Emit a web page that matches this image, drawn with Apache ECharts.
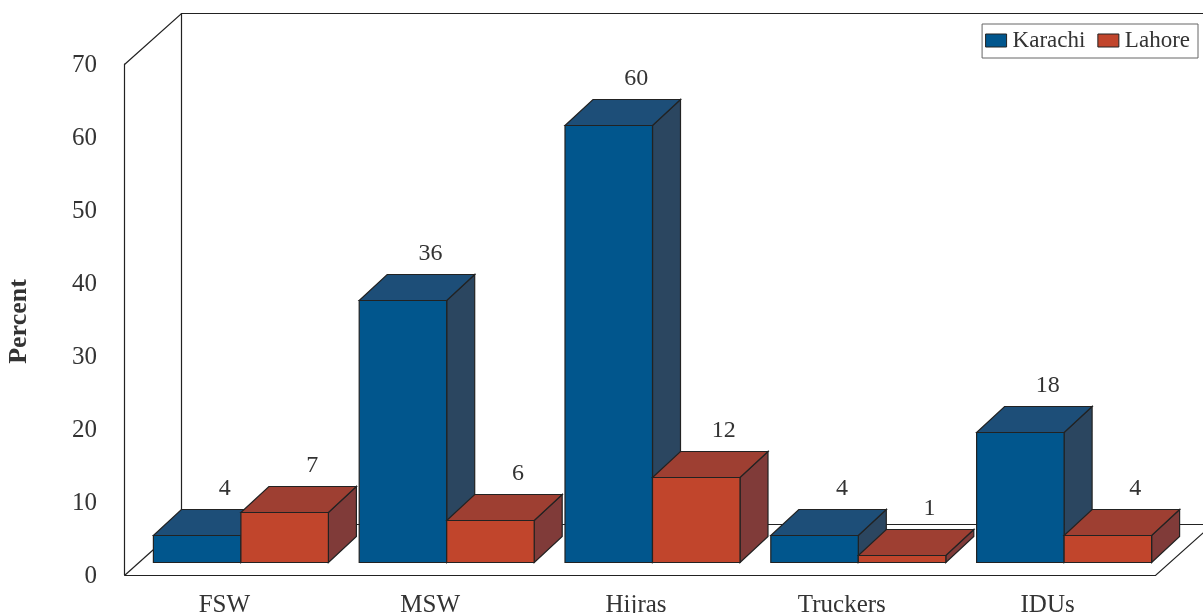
<!DOCTYPE html>
<html>
<head>
<meta charset="utf-8">
<style>html,body{margin:0;padding:0;background:#fff}#c{width:1203px;height:613px}</style>
<script src="https://cdn.jsdelivr.net/npm/echarts@6/dist/echarts.min.js"></script>
</head>
<body>
<div id="c"></div>
<script>
const categories = ['FSW', 'MSW', 'Hijras', 'Truckers', 'IDUs'];
const karachi = [3.7, 35.9, 59.8, 3.7, 17.8];
const lahore = [6.85, 5.75, 11.6, 1.0, 3.7];
const yTicks = [0, 70, 10];

const FONT = '"Liberation Serif","Times New Roman",serif';
const INK = '#222';
const TXT = '#333';
const BAR_W = 87.5, BAR_DX = 28, BAR_DY = 26, LIFT = 13, GROUP_SHIFT = 14;
const WALL_DX = 57, WALL_DY = 51;
const STROKE = 1.2;

const chart = echarts.init(document.getElementById('c'), null, {renderer: 'canvas'});

function poly(points, fill) {
  return {type: 'polygon', shape: {points},
    style: {fill, stroke: INK, lineWidth: STROKE, lineJoin: 'miter'}};
}

function barRenderer(side, faces) {
  return function (params, api) {
    const i = api.value(0), v = api.value(1);
    const base = api.coord([i, 0]);
    const top = api.coord([i, v]);
    const x0 = base[0] + GROUP_SHIFT + (side < 0 ? -BAR_W : 0);
    const x1 = x0 + BAR_W;
    const yb = Math.round(base[1] - LIFT) + 0.5;
    const yt = Math.round(top[1] - LIFT) + 0.5;
    return {type: 'group', children: [
      poly([[x1, yb], [x1 + BAR_DX, yb - BAR_DY], [x1 + BAR_DX, yt - BAR_DY], [x1, yt]], faces.side),
      poly([[x0, yt], [x0 + BAR_DX, yt - BAR_DY], [x1 + BAR_DX, yt - BAR_DY], [x1, yt]], faces.top),
      poly([[x0, yb], [x1, yb], [x1, yt], [x0, yt]], faces.front),
      {type: 'text', style: {
        x: (x0 + x1) / 2 + BAR_DX - 0.5, y: yt - BAR_DY - 20.5,
        text: String(Math.round(v)), fill: TXT, font: '24px ' + FONT,
        textAlign: 'center', textVerticalAlign: 'middle'}}
    ]};
  };
}

function wallRenderer(params, api) {
  const o = api.coord([0, yTicks[0]]);
  const t = api.coord([0, yTicks[1]]);
  const band = api.size([1, 0])[0];
  const x = Math.round(o[0] - band / 2) + 0.5;
  const yb = Math.round(o[1]) + 0.5, yt = Math.round(t[1]) + 0.5;
  const xr = 1155.5, far = 1210;
  const seg = pts => ({type: 'polyline', shape: {points: pts},
    style: {fill: 'none', stroke: INK, lineWidth: STROKE}});
  return {type: 'group', children: [
    seg([[x, yt], [x + WALL_DX, yt - WALL_DY], [far, yt - WALL_DY]]),
    seg([[x + WALL_DX, yt - WALL_DY], [x + WALL_DX, yb - WALL_DY], [far, yb - WALL_DY]]),
    seg([[x, yb], [x + WALL_DX, yb - WALL_DY]]),
    seg([[x, yb], [xr, yb], [xr + WALL_DX, yb - WALL_DY]])
  ]};
}

const karachiFaces = {front: '#01568D', top: '#1D4E78', side: '#2B4660'};
const lahoreFaces = {front: '#C1452C', top: '#9E3F32', side: '#803B39'};

chart.setOption({
  animation: false,
  backgroundColor: '#fff',
  textStyle: {fontFamily: FONT},
  grid: {left: 124, top: 64, width: 1029, height: 511, containLabel: false, outerBoundsMode: 'none'},
  legend: {
    right: 5, top: 24, padding: [5, 8, 6, 3], itemGap: 12,
    backgroundColor: '#fff', borderColor: '#666', borderWidth: 1,
    itemWidth: 21, itemHeight: 13, icon: 'rect',
    itemStyle: {borderColor: INK, borderWidth: 1},
    textStyle: {fontFamily: FONT, fontSize: 23, color: TXT, padding: [0, 0, 0, 1]},
    data: ['Karachi', 'Lahore']
  },
  xAxis: {
    type: 'category', data: categories,
    axisLine: {show: false}, axisTick: {show: false}, splitLine: {show: false},
    axisLabel: {fontFamily: FONT, fontSize: 25, color: TXT, margin: 18, padding: [0, 5, 0, 0], interval: 0}
  },
  yAxis: {
    type: 'value', min: yTicks[0], max: yTicks[1], interval: yTicks[2],
    name: 'Percent', nameLocation: 'middle', nameRotate: 90, nameGap: 92,
    nameTextStyle: {fontFamily: FONT, fontSize: 26, fontWeight: 'bold', color: TXT, padding: [0, 4, 0, 0]},
    axisLine: {show: true, lineStyle: {color: INK, width: STROKE}},
    axisTick: {show: false}, splitLine: {show: false},
    axisLabel: {fontFamily: FONT, fontSize: 25, color: TXT, margin: 27, verticalAlign: 'top', padding: [-11, 0, 0, 0]}
  },
  series: [
    {type: 'custom', name: 'walls', silent: true, z: 1, clip: false,
     renderItem: wallRenderer, data: [[0, 0]], encode: {x: 0, y: 1}},
    {type: 'custom', name: 'Karachi', z: 2, clip: false,
     itemStyle: {color: karachiFaces.front},
     renderItem: barRenderer(-1, karachiFaces),
     data: karachi.map((v, i) => [i, v]), encode: {x: 0, y: 1}},
    {type: 'custom', name: 'Lahore', z: 3, clip: false,
     itemStyle: {color: lahoreFaces.front},
     renderItem: barRenderer(1, lahoreFaces),
     data: lahore.map((v, i) => [i, v]), encode: {x: 0, y: 1}}
  ]
});
</script>
</body>
</html>
